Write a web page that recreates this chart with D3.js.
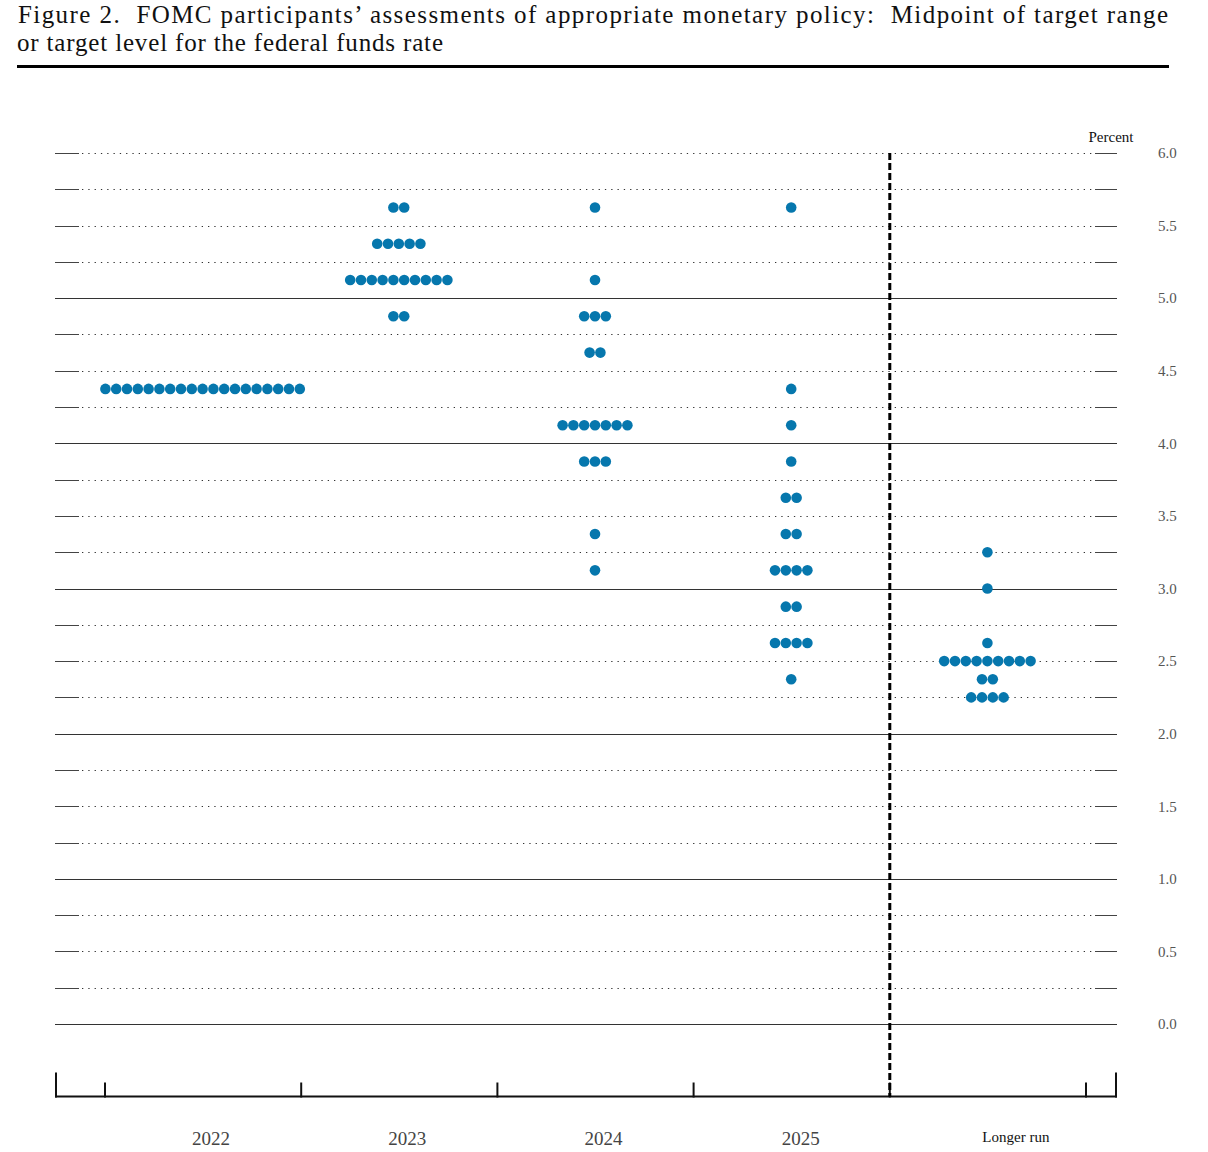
<!DOCTYPE html>
<html>
<head>
<meta charset="utf-8">
<script src="https://cdn.jsdelivr.net/npm/d3@7/dist/d3.min.js"></script>
<style>
  html, body { margin: 0; padding: 0; background: #fff; }
  svg { display: block; }
</style>
</head>
<body>
<svg id="chart" width="1208" height="1152"></svg>
<script>
// ---------------- DATA ----------------
const titleLine1 = "Figure 2.  FOMC participants\u2019 assessments of appropriate monetary policy:  Midpoint of target range";
const titleLine2 = "or target level for the federal funds rate";
const categories = ["2022", "2023", "2024", "2025", "Longer run"];
const yTickLabels = ["0.0", "0.5", "1.0", "1.5", "2.0", "2.5", "3.0", "3.5", "4.0", "4.5", "5.0", "5.5", "6.0"];
const gridValues = [0, 0.25, 0.5, 0.75, 1, 1.25, 1.5, 1.75, 2, 2.25, 2.5, 2.75, 3, 3.25, 3.5, 3.75, 4, 4.25, 4.5, 4.75, 5, 5.25, 5.5, 5.75, 6];
const solidGridValues = [0, 1, 2, 3, 4, 5];
// [rate, number of participants]
const dots2022 = [[4.375, 19]];
const dots2023 = [[5.625, 2], [5.375, 5], [5.125, 10], [4.875, 2]];
const dots2024 = [[5.625, 1], [5.125, 1], [4.875, 3], [4.625, 2], [4.125, 7], [3.875, 3], [3.375, 1], [3.125, 1]];
const dots2025 = [[5.625, 1], [4.375, 1], [4.125, 1], [3.875, 1], [3.625, 2], [3.375, 2], [3.125, 4], [2.875, 2], [2.625, 4], [2.375, 1]];
const dotsLongerRun = [[3.25, 1], [3.0, 1], [2.625, 1], [2.5, 9], [2.375, 2], [2.25, 4]];
const seriesDots = [dots2022, dots2023, dots2024, dots2025, dotsLongerRun];

// ---------------- LAYOUT ----------------
const svg = d3.select("#chart");
const frameLeft = 55, frameRight = 1117;
const yTop = 153, yBottom = 1024;
const axisY = 1096.5;
const dotColor = "#0677ad";
const serif = "'Liberation Serif', 'Times New Roman', serif";

const x = d3.scaleBand().domain(categories).range([105, 1086]).padding(0);
const y = d3.scaleLinear().domain([0, 6]).range([yBottom, yTop]);

// Title
svg.append("text").attr("x", 18).attr("y", 23)
  .attr("font-family", serif).attr("font-size", 25).attr("fill", "#111")
  .attr("textLength", 1150).attr("lengthAdjust", "spacing")
  .style("white-space", "pre")
  .text(titleLine1);
svg.append("text").attr("x", 17).attr("y", 51)
  .attr("font-family", serif).attr("font-size", 25).attr("fill", "#111")
  .attr("textLength", 426).attr("lengthAdjust", "spacing")
  .text(titleLine2);
svg.append("line").attr("x1", 17).attr("x2", 1169).attr("y1", 66.5).attr("y2", 66.5)
  .attr("stroke", "#000").attr("stroke-width", 3);

// Gridlines
const grid = svg.append("g");
gridValues.forEach(v => {
  const yy = Math.round(y(v)) + 0.5;
  if (solidGridValues.includes(v)) {
    grid.append("line").attr("x1", frameLeft).attr("x2", frameRight).attr("y1", yy).attr("y2", yy)
      .attr("stroke", "#333").attr("stroke-width", 1.1);
  } else {
    grid.append("line").attr("x1", frameLeft).attr("x2", 79).attr("y1", yy).attr("y2", yy)
      .attr("stroke", "#444").attr("stroke-width", 1);
    grid.append("line").attr("x1", 1095).attr("x2", frameRight).attr("y1", yy).attr("y2", yy)
      .attr("stroke", "#444").attr("stroke-width", 1);
    grid.append("line").attr("x1", 82).attr("x2", 1093).attr("y1", yy).attr("y2", yy)
      .attr("stroke", "#333").attr("stroke-width", 1.2).attr("stroke-dasharray", "1.3,5");
  }
});

// Right y labels
const yAxis = d3.axisRight(y).tickValues(yTickLabels.map(Number)).tickFormat((d, i) => yTickLabels[i]).tickSize(0);
const yAxisG = svg.append("g").attr("transform", `translate(${1158},0)`).call(yAxis);
yAxisG.select(".domain").remove();
yAxisG.selectAll("text").attr("x", 0).attr("dy", "0.32em")
  .attr("font-family", serif).attr("font-size", 15).attr("fill", "#555");

svg.append("text").attr("x", 1111).attr("y", 142).attr("text-anchor", "middle")
  .attr("font-family", serif).attr("font-size", 15).attr("fill", "#111").text("Percent");

// Bottom axis
const xAxisG = svg.append("g");
xAxisG.append("line").attr("x1", frameLeft).attr("x2", frameRight).attr("y1", axisY).attr("y2", axisY)
  .attr("stroke", "#111").attr("stroke-width", 2);
[frameLeft + 1, frameRight - 1].forEach(xx => {
  xAxisG.append("line").attr("x1", xx).attr("x2", xx).attr("y1", 1072.5).attr("y2", axisY + 1)
    .attr("stroke", "#111").attr("stroke-width", 2);
});
const bandEdges = categories.map(c => x(c)).concat([x(categories[categories.length - 1]) + x.bandwidth()]);
bandEdges.forEach(xx => {
  xAxisG.append("line").attr("x1", xx).attr("x2", xx).attr("y1", 1082.5).attr("y2", axisY + 1)
    .attr("stroke", "#111").attr("stroke-width", 2);
});

// Vertical dashed separator before Longer run
const sepX = x(categories[4]);
svg.append("line").attr("x1", sepX).attr("x2", sepX).attr("y1", yTop).attr("y2", axisY)
  .attr("stroke", "#000").attr("stroke-width", 3).attr("stroke-dasharray", "7,3");

// Category labels
const labelShift = [8, 8, 8, 9, 28];
categories.forEach((c, i) => {
  const isLR = i === categories.length - 1;
  svg.append("text")
    .attr("x", x(c) + x.bandwidth() / 2 + labelShift[i])
    .attr("y", isLR ? 1142 : 1145)
    .attr("text-anchor", "middle")
    .attr("font-family", serif)
    .attr("font-size", isLR ? 15 : 19)
    .attr("fill", isLR ? "#111" : "#444")
    .text(c);
});

// Dots
const spacing = 10.8;
const points = [];
seriesDots.forEach((rows, ci) => {
  const cx = x(categories[ci]) + x.bandwidth() / 2 - 0.5;
  rows.forEach(([rate, n]) => {
    for (let k = 0; k < n; k++) {
      points.push({ x: cx + (k - (n - 1) / 2) * spacing, rate });
    }
  });
});
svg.append("g").selectAll("circle").data(points).join("circle")
  .attr("cx", d => d.x)
  .attr("cy", d => y(d.rate))
  .attr("r", 5.3)
  .attr("fill", dotColor);
</script>
</body>
</html>
